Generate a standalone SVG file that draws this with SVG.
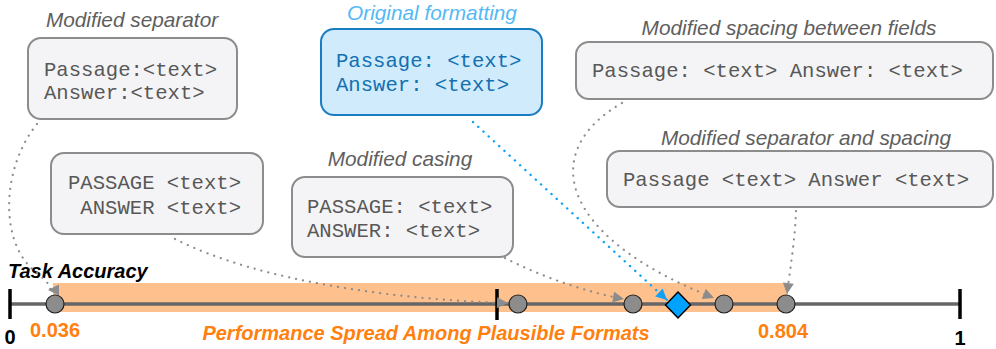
<svg xmlns="http://www.w3.org/2000/svg" width="996" height="349" viewBox="0 0 996 349">
<defs>
<style>
.box{fill:#F4F4F6;stroke:#8C8C8C;stroke-width:2}
.obox{fill:#CFEBFC;stroke:#1A7CC1;stroke-width:2}
.mono{font-family:"Liberation Mono","Courier New",monospace;font-size:20.6px;fill:#585858}
.omono{font-family:"Liberation Mono","Courier New",monospace;font-size:20.6px;fill:#1470B0}
.lab{font-family:"Liberation Sans",Arial,sans-serif;font-style:italic;font-size:20.8px;fill:#5E5E5E;text-anchor:middle}
.olab{font-family:"Liberation Sans",Arial,sans-serif;font-style:italic;font-size:20.8px;fill:#55B9F5;text-anchor:middle}
.org{font-family:"Liberation Sans",Arial,sans-serif;font-weight:bold;font-size:20px;fill:#FF7F0F}
.blk{font-family:"Liberation Sans",Arial,sans-serif;font-weight:bold;font-size:20px;fill:#000}
.conn{fill:none;stroke:#8C8C8C;stroke-width:2.2;stroke-dasharray:0.1 7;stroke-linecap:round}
.bconn{fill:none;stroke:#10A0F5;stroke-width:2.4;stroke-dasharray:0.1 7;stroke-linecap:round}
.pt{fill:#8C8C8C;stroke:#222;stroke-width:1.2}
.tick{stroke:#000;stroke-width:3.5}
</style>
<marker id="ag" viewBox="0 0 10 10" refX="10" refY="5" markerWidth="12" markerHeight="11" markerUnits="userSpaceOnUse" orient="auto">
<path d="M0,0 L10,5 L0,10 z" fill="#8C8C8C"/>
</marker>
<marker id="ab" viewBox="0 0 10 10" refX="10" refY="5" markerWidth="12" markerHeight="11" markerUnits="userSpaceOnUse" orient="auto">
<path d="M0,0 L10,5 L0,10 z" fill="#10A0F5"/>
</marker>
</defs>
<rect width="996" height="349" fill="#fff"/>

<g id="axis">
<rect x="53" y="283" width="735" height="29" fill="#FEC08D"/>
<line x1="10" y1="304" x2="960" y2="304" stroke="#666" stroke-width="3.5"/>
<line class="tick" x1="10" y1="289" x2="10" y2="319"/>
<line class="tick" x1="497" y1="289" x2="497" y2="320"/>
<line class="tick" x1="960" y1="289" x2="960" y2="319"/>
<text class="blk" x="8" y="278" font-style="italic">Task Accuracy</text>
<text class="blk" x="10" y="344" text-anchor="middle">0</text>
<text class="blk" x="960" y="345" text-anchor="middle">1</text>
<text class="org" x="30" y="337">0.036</text>
<text class="org" x="758" y="338">0.804</text>
<text class="org" x="426" y="340" font-style="italic" text-anchor="middle" font-size="20.6px">Performance Spread Among Plausible Formats</text>
</g>

<g id="connectors">
<path class="conn" d="M37,124 C0,170 0,245 36,272 C48,282 54,290 48,290" marker-end="url(#ag)"/>
<path class="conn" d="M175,239 C260,282 400,300 508,303" marker-end="url(#ag)"/>
<path class="conn" d="M505,258 C540,276 585,292 624,299" marker-end="url(#ag)"/>
<path class="bconn" d="M473,122 L667,300" marker-end="url(#ab)"/>
<path class="conn" d="M622,103 C540,150 555,235 714,298" marker-end="url(#ag)"/>
<path class="conn" d="M796,211 C795,240 790,270 787,294" marker-end="url(#ag)"/>
</g>

<g id="points">
<circle class="pt" cx="55" cy="304" r="9"/>
<circle class="pt" cx="518" cy="304" r="9"/>
<circle class="pt" cx="633" cy="304" r="9"/>
<circle class="pt" cx="724" cy="304" r="9"/>
<circle class="pt" cx="786" cy="304" r="9"/>
<path d="M678,292 L690.5,305 L678,318 L665.5,305 z" fill="#00A2FF" stroke="#000" stroke-width="1.5"/>
</g>

<g id="n-sep">
<text class="lab" x="132" y="27">Modified separator</text>
<rect class="box" x="28" y="38" width="209" height="81" rx="13"/>
<text class="mono" x="44" y="76">Passage:&lt;text&gt;</text>
<text class="mono" x="44" y="99">Answer:&lt;text&gt;</text>
</g>

<g id="n-orig">
<text class="olab" x="432" y="20">Original formatting</text>
<rect class="obox" x="321" y="29" width="221" height="86" rx="13"/>
<text class="omono" x="336" y="67">Passage: &lt;text&gt;</text>
<text class="omono" x="336" y="91">Answer: &lt;text&gt;</text>
</g>

<g id="n-spacing">
<text class="lab" x="789" y="35">Modified spacing between fields</text>
<rect class="box" x="576" y="42" width="417" height="57" rx="13"/>
<text class="mono" x="592" y="77">Passage: &lt;text&gt; Answer: &lt;text&gt;</text>
</g>

<g id="n-upper">
<rect class="box" x="51" y="153" width="212" height="81" rx="13"/>
<text class="mono" x="68" y="189" xml:space="preserve">PASSAGE &lt;text&gt;</text>
<text class="mono" x="68" y="214" xml:space="preserve"> ANSWER &lt;text&gt;</text>
</g>

<g id="n-casing">
<text class="lab" x="400" y="166">Modified casing</text>
<rect class="box" x="292" y="177" width="221" height="80" rx="13"/>
<text class="mono" x="307" y="213">PASSAGE: &lt;text&gt;</text>
<text class="mono" x="307" y="237">ANSWER: &lt;text&gt;</text>
</g>

<g id="n-sepspace">
<text class="lab" x="806" y="145">Modified separator and spacing</text>
<rect class="box" x="607" y="151" width="386" height="56" rx="13"/>
<text class="mono" x="623" y="186">Passage &lt;text&gt; Answer &lt;text&gt;</text>
</g>
</svg>
